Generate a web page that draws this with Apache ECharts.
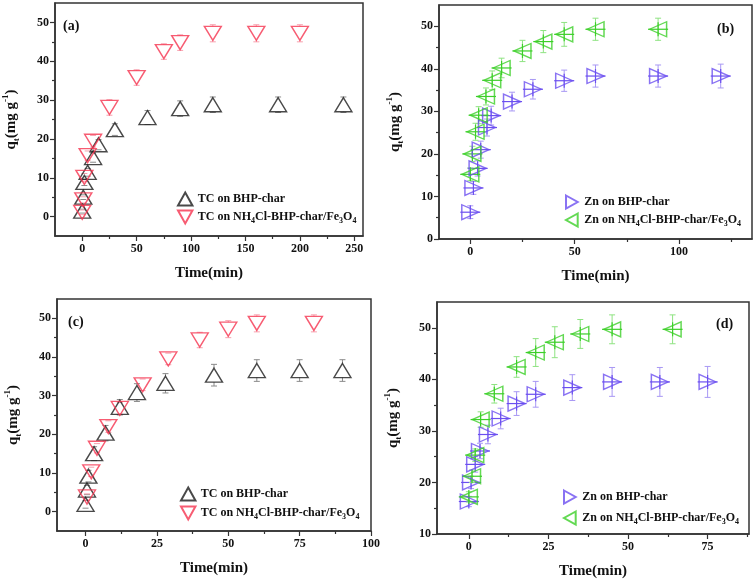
<!DOCTYPE html>
<html>
<head>
<meta charset="utf-8">
<script src="https://cdn.jsdelivr.net/npm/echarts@6/dist/echarts.min.js"></script>
<style>
html, body { margin: 0; padding: 0; background: #fff; }
#main { width: 756px; height: 580px; }
</style>
</head>
<body>
<div id="main"></div>
<script>
// series names
var nTC1 = 'TC on BHP-char';
var nTC2 = 'TC on NH4Cl-BHP-char/Fe3O4';
var nZn1 = 'Zn on BHP-char';
var nZn2 = 'Zn on NH4Cl-BHP-char/Fe3O4';

// (a) TC, long run
var tA1 = [0, 1, 2, 5, 10, 15, 30, 60, 90, 120, 180, 240];
var qA1 = [1.4, 5, 8.8, 11.4, 15.2, 18.5, 22.4, 25.5, 27.8, 28.8, 28.8, 28.8];
var eA1 = [0.5, 0.6, 0.8, 1, 1.2, 1.3, 1.5, 1.8, 2, 2, 2, 2];
var tA2 = [0, 1, 2, 5, 10, 25, 50, 75, 90, 120, 160, 200];
var qA2 = [1.1, 4.3, 10.1, 15.7, 19.4, 28.1, 35.8, 42.5, 44.8, 47.2, 47.2, 47.2];
var eA2 = [0.6, 0.8, 1, 1.2, 1.5, 2, 2, 2, 2, 2.2, 2.2, 2.2];

// (b) Zn, long run
var tB1 = [0, 1.5, 3.5, 5, 8, 10, 20, 30, 45, 60, 90, 120];
var qB1 = [6.3, 12, 16.6, 21, 26.2, 29, 32.3, 35.2, 37.2, 38.3, 38.3, 38.3];
var eB1 = [1.5, 1.5, 1.8, 2, 2, 2.2, 2.2, 2.3, 2.5, 2.6, 2.6, 2.8];
var tB2 = [0, 1, 2.5, 4, 7.5, 10.5, 15, 25, 35, 45, 60, 90];
var qB2 = [15.2, 20, 25.2, 29.1, 33.5, 37.3, 40.2, 44.2, 46.4, 48.1, 49.3, 49.3];
var eB2 = [1.5, 1.8, 2, 2, 2, 2.2, 2.3, 2.5, 2.6, 2.8, 2.6, 2.6];

// (c) TC, short run
var tC1 = [0, 0.5, 1, 3, 7, 12, 18, 28, 45, 60, 75, 90];
var qC1 = [1.9, 5.6, 9.2, 15, 20.3, 27, 30.8, 33.2, 35.3, 36.5, 36.5, 36.5];
var eC1 = [1, 1.2, 1.5, 1.8, 2, 2, 2.3, 2.5, 2.8, 2.8, 2.8, 2.8];
var tC2 = [0.5, 2, 4, 8, 12, 20, 29, 40, 50, 60, 80];
var qC2 = [3.8, 10.3, 16.4, 22, 26.7, 32.8, 39.5, 44.4, 47.2, 48.7, 48.7];
var eC2 = [0.8, 1.2, 1.2, 1.5, 1.5, 1.5, 1.5, 2, 2.2, 2.2, 2.2];

// (d) Zn, short run
var tD1 = [0, 0.7, 2, 3.5, 6, 10, 15, 21, 32.5, 45, 60, 75];
var qD1 = [16.3, 20, 23.5, 26.1, 29.3, 32.4, 35.3, 37.1, 38.4, 39.5, 39.5, 39.5];
var eD1 = [1, 1.2, 1.5, 1.5, 1.8, 2, 2.3, 2.5, 2.5, 2.8, 2.8, 3];
var tD2 = [0, 1, 2, 3.7, 8, 15, 21, 27, 35, 45, 64];
var qD2 = [17.2, 21.2, 25.3, 32.2, 37.2, 42.4, 45.2, 47.2, 48.8, 49.7, 49.7];
var eD2 = [1, 1.2, 1.2, 1.5, 1.8, 2, 2.7, 3, 2.8, 2.8, 2.8];

// axis ticks
var xTicksA = [0, 50, 100, 150, 200, 250], xMinorA = [25, 75, 125, 175, 225];
var xTicksB = [0, 50, 100], xMinorB = [25, 75, 125];
var xTicksC = [0, 25, 50, 75, 100], xMinorC = [12.5, 37.5, 62.5, 87.5];
var xTicksD = [0, 25, 50, 75], xMinorD = [12.5, 37.5, 62.5, 87.5];
var yTicks50 = [0, 10, 20, 30, 40, 50], yMinor50 = [5, 15, 25, 35, 45];
var yTicksD = [10, 20, 30, 40, 50], yMinorD = [15, 25, 35, 45];

var FONT = 'Liberation Serif';
var BLACK = '#1c1c1c', RED = '#f5334f', PURPLE = '#6b4ff0', GREEN = '#3ccf28';

// legend icons (triangle pointing up / down / right / left)
var ICON_UP = 'path://M5,0 L10,9 L0,9 Z';
var ICON_DOWN = 'path://M0,0 L10,0 L5,9 Z';
var ICON_RIGHT = 'path://M0,0 L9,5 L0,10 Z';
var ICON_LEFT = 'path://M9,0 L0,5 L9,10 Z';

var chart = echarts.init(document.getElementById('main'));

function zip(t, q, e) {
  return t.map(function (v, i) { return [v, q[i], e[i]]; });
}

function axisPair(kind, gi, min, max, major, minor, name, nameGap) {
  var pos = kind === 'x' ? 'bottom' : 'left';
  var main = {
    type: 'value', gridIndex: gi, min: min, max: max, position: pos,
    axisLine: { show: true, onZero: false, lineStyle: { color: '#333', width: 1.5 } },
    axisTick: { show: true, inside: false, length: 5, customValues: major, lineStyle: { color: '#333', width: 1.2 } },
    axisLabel: { customValues: major, fontFamily: FONT, fontWeight: 'bold', fontSize: 12, color: '#111', margin: kind === 'x' ? 7 : 6 },
    splitLine: { show: false },
    name: name, nameLocation: 'middle', nameGap: nameGap
  };
  if (kind === 'x') {
    main.nameTextStyle = { fontFamily: FONT, fontWeight: 'bold', fontSize: 15, color: '#111' };
  } else {
    main.nameRotate = 90;
    main.nameTextStyle = {
      fontFamily: FONT, fontWeight: 'bold', fontSize: 15, color: '#111',
      rich: {
        m: { fontFamily: FONT, fontWeight: 'bold', fontSize: 15, lineHeight: 20, color: '#111' },
        sub: { fontFamily: FONT, fontWeight: 'bold', fontSize: 9, lineHeight: 10, verticalAlign: 'bottom', color: '#111' },
        sup: { fontFamily: FONT, fontWeight: 'bold', fontSize: 9, lineHeight: 10, verticalAlign: 'top', color: '#111' }
      }
    };
  }
  var sub = {
    type: 'value', gridIndex: gi, min: min, max: max, position: pos,
    axisLine: { show: false, onZero: false },
    axisTick: { show: true, inside: false, length: 3, customValues: minor, lineStyle: { color: '#333', width: 1.2 } },
    axisLabel: { show: false },
    splitLine: { show: false }
  };
  return [main, sub];
}

var qName = '{m|q}{sub|t}{m|(mg g}{sup|-1}{m|)}';

var xAxes = [].concat(
  axisPair('x', 0, -25, 258, xTicksA, xMinorA, 'Time(min)', 30),
  axisPair('x', 1, -15, 135, xTicksB, xMinorB, 'Time(min)', 30),
  axisPair('x', 2, -10, 100, xTicksC, xMinorC, 'Time(min)', 30),
  axisPair('x', 3, -10, 88, xTicksD, xMinorD, 'Time(min)', 30)
);
var yAxes = [].concat(
  axisPair('y', 0, -5, 55, yTicks50, yMinor50, qName, 34),
  axisPair('y', 1, 0, 55, yTicks50, yMinor50, qName, 34),
  axisPair('y', 2, -5, 55, yTicks50, yMinor50, qName, 34),
  axisPair('y', 3, 10, 55, yTicksD, yMinorD, qName, 34)
);

// error bars; with crossColor a "+" is drawn through the marker,
// otherwise the bar is kept outside the hollow marker
function errSeries(gi, data, color, crossColor) {
  return {
    type: 'custom', xAxisIndex: gi * 2, yAxisIndex: gi * 2, z: 1, silent: true,
    data: data, encode: { x: 0, y: 1 },
    renderItem: function (params, api) {
      var x = api.value(0), y = api.value(1), e = api.value(2);
      var hi = api.coord([x, y + e]), lo = api.coord([x, y - e]), c = api.coord([x, y]);
      var st = { stroke: color, lineWidth: 1 };
      var kids = [
        { type: 'line', shape: { x1: hi[0] - 3, y1: hi[1], x2: hi[0] + 3, y2: hi[1] }, style: st },
        { type: 'line', shape: { x1: lo[0] - 3, y1: lo[1], x2: lo[0] + 3, y2: lo[1] }, style: st }
      ];
      if (crossColor) {
        kids.push({ type: 'line', shape: { x1: hi[0], y1: hi[1], x2: lo[0], y2: lo[1] }, style: st });
        var cs = { stroke: crossColor, lineWidth: 1.2 };
        kids.push({ type: 'line', shape: { x1: c[0] - 10, y1: c[1], x2: c[0] + 10, y2: c[1] }, style: cs });
        kids.push({ type: 'line', shape: { x1: c[0], y1: c[1] - 7, x2: c[0], y2: c[1] + 7 }, style: cs });
      } else {
        if (hi[1] < c[1] - 7) kids.push({ type: 'line', shape: { x1: hi[0], y1: hi[1], x2: c[0], y2: c[1] - 7 }, style: st });
        if (lo[1] > c[1] + 7) kids.push({ type: 'line', shape: { x1: lo[0], y1: lo[1], x2: c[0], y2: c[1] + 7 }, style: st });
      }
      return { type: 'group', children: kids };
    }
  };
}

function dotSeries(gi, name, t, q, color, rot, size) {
  return {
    type: 'scatter', name: name, xAxisIndex: gi * 2, yAxisIndex: gi * 2, z: 3,
    data: t.map(function (v, i) { return [v, q[i]]; }),
    symbol: 'triangle', symbolSize: size, symbolRotate: rot,
    itemStyle: { color: 'rgba(255,255,255,0)', borderColor: color, borderWidth: 1.4 },
    emphasis: { disabled: true }
  };
}

var series = [
  errSeries(0, zip(tA1, qA1, eA1), '#8a8a8a'),
  errSeries(0, zip(tA2, qA2, eA2), '#f7a0ae'),
  errSeries(1, zip(tB1, qB1, eB1), '#a898f4', PURPLE),
  errSeries(1, zip(tB2, qB2, eB2), '#8fe382', GREEN),
  errSeries(2, zip(tC1, qC1, eC1), '#8a8a8a'),
  errSeries(2, zip(tC2, qC2, eC2), '#f7a0ae'),
  errSeries(3, zip(tD1, qD1, eD1), '#a898f4', PURPLE),
  errSeries(3, zip(tD2, qD2, eD2), '#8fe382', GREEN),
  dotSeries(0, nTC1, tA1, qA1, BLACK, 0, [17, 14]),
  dotSeries(0, nTC2, tA2, qA2, RED, 180, [17, 14]),
  dotSeries(1, nZn1, tB1, qB1, PURPLE, -90, [15, 17]),
  dotSeries(1, nZn2, tB2, qB2, GREEN, 90, [15, 17]),
  dotSeries(2, nTC1, tC1, qC1, BLACK, 0, [17, 14]),
  dotSeries(2, nTC2, tC2, qC2, RED, 180, [17, 14]),
  dotSeries(3, nZn1, tD1, qD1, PURPLE, -90, [15, 17]),
  dotSeries(3, nZn2, tD2, qD2, GREEN, 90, [15, 17])
];

function legendAt(items, left, top, gap) {
  return {
    data: items, left: left, top: top, orient: 'vertical', itemGap: gap,
    itemWidth: 15, itemHeight: 13, padding: 0, selectedMode: false,
    textStyle: {
      fontFamily: FONT, fontWeight: 'bold', fontSize: 12, color: '#111', lineHeight: 16,
      rich: { s: { fontFamily: FONT, fontWeight: 'bold', fontSize: 8, lineHeight: 8, verticalAlign: 'bottom', color: '#111' } }
    },
    formatter: function (n) {
      return n.replace('NH4Cl', 'NH{s|4}Cl').replace('Fe3O4', 'Fe{s|3}O{s|4}');
    }
  };
}

function panelTitle(txt, left, top) {
  return { text: txt, left: left, top: top, padding: 0,
    textStyle: { fontFamily: FONT, fontWeight: 'bold', fontSize: 14, color: '#111' } };
}

var gridBox = { show: true, borderColor: '#333', borderWidth: 1.5, backgroundColor: 'transparent' };
var legTC = [{ name: nTC1, icon: ICON_UP }, { name: nTC2, icon: ICON_DOWN }];
var legZn = [{ name: nZn1, icon: ICON_RIGHT }, { name: nZn2, icon: ICON_LEFT }];

chart.setOption({
  animation: false,
  backgroundColor: '#fff',
  title: [
    panelTitle('(a)', 63, 19),
    panelTitle('(b)', 717, 22),
    panelTitle('(c)', 68, 315),
    panelTitle('(d)', 716, 317)
  ],
  grid: [
    Object.assign({ left: 52, top: 3, width: 311, height: 233 }, gridBox),
    Object.assign({ left: 439, top: 5, width: 313, height: 234 }, gridBox),
    Object.assign({ left: 57, top: 299, width: 314, height: 232 }, gridBox),
    Object.assign({ left: 437, top: 302, width: 312, height: 232 }, gridBox)
  ],
  legend: [
    legendAt(legTC, 177, 191, 2),
    legendAt(legZn, 565, 194, 2),
    legendAt(legTC, 180, 486, 3),
    legendAt(legZn, 563, 489, 5)
  ],
  xAxis: xAxes,
  yAxis: yAxes,
  series: series
});
</script>
</body>
</html>
